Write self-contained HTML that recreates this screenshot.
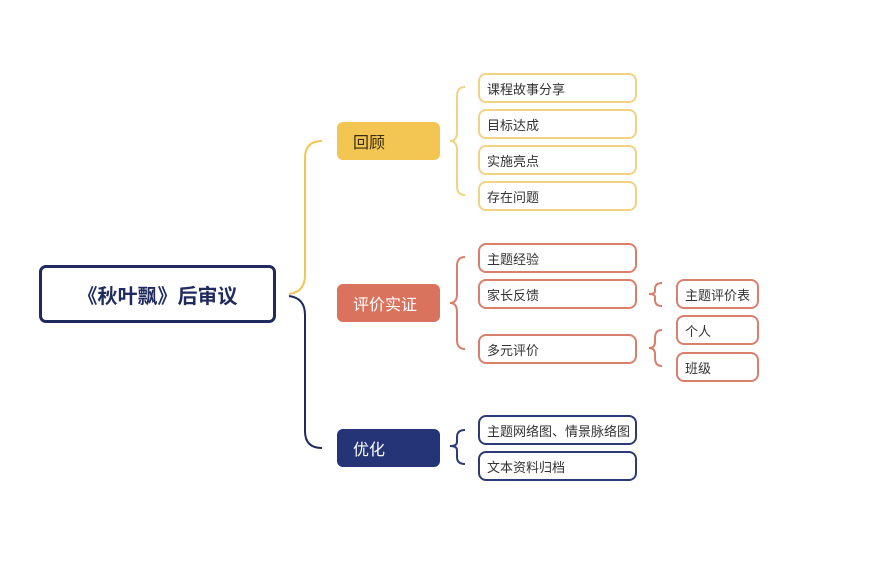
<!DOCTYPE html>
<html><head><meta charset="utf-8"><style>
body{margin:0;width:877px;height:585px;background:#fff;position:relative;overflow:hidden;font-family:"Liberation Sans","Noto Sans CJK SC",sans-serif}
.b{position:absolute;box-sizing:border-box;display:flex;align-items:center}
.leaf{height:30px;border-radius:8px;border:2px solid;padding-left:7px;font-size:13px;color:#333;background:#fff}
.y{border-color:#f0d385}.r{border-color:#d9806c}.n{border-color:#2d3a78}
.main{left:337px;width:103px;height:38px;border-radius:6px;padding-left:16px;font-size:16px}
svg{position:absolute;left:0;top:0}
</style></head><body>
<svg width="877" height="585" fill="none" stroke-width="2">
<path d="M289 294 Q305 292 305 275 L305 158 Q305 141 322 141" stroke="#f3c553"/>
<path d="M289 296 Q305 298 305 315 L305 431 Q305 448 322 448" stroke="#1f2a5e"/>
<path d="M465 87 Q457 87 457 96 L457 132 Q457 141 450 141 Q457 141 457 150 L457 186 Q457 195 465 195" stroke="#f0d385"/>
<path d="M465 257 Q457 257 457 266 L457 294 Q457 303 450 303 Q457 303 457 312 L457 340 Q457 349 465 349" stroke="#d9806c"/>
<path d="M662 283 Q655 283 655 289 L655 291 Q655 294 649 294 Q655 294 655 297 L655 300 Q655 306 662 306" stroke="#d9806c"/>
<path d="M662 330 Q655 330 655 338 L655 342 Q655 348 649 348 Q655 348 655 354 L655 358 Q655 366 662 366" stroke="#d9806c"/>
<path d="M465 430 Q457 430 457 437 L457 442 Q457 446 450 446 Q457 446 457 450 L457 457 Q457 464 465 464" stroke="#2d3a78"/>
</svg>
<div class="b" style="left:39px;top:265px;width:237px;height:58px;border:3px solid #1f2a5e;border-radius:7px;justify-content:center;font-size:20px;font-weight:bold;color:#1f2a5e">《秋叶飘》后审议</div>
<div class="b main" style="top:122px;background:#f3c553;color:#3a2c10">回顾</div>
<div class="b main" style="top:284px;background:#d9735e;color:#fff">评价实证</div>
<div class="b main" style="top:429px;background:#253477;color:#fff">优化</div>
<div class="b leaf y" style="left:478px;top:73px;width:159px">课程故事分享</div>
<div class="b leaf y" style="left:478px;top:109px;width:159px">目标达成</div>
<div class="b leaf y" style="left:478px;top:145px;width:159px">实施亮点</div>
<div class="b leaf y" style="left:478px;top:181px;width:159px">存在问题</div>
<div class="b leaf r" style="left:478px;top:243px;width:159px">主题经验</div>
<div class="b leaf r" style="left:478px;top:279px;width:159px">家长反馈</div>
<div class="b leaf r" style="left:478px;top:334px;width:159px">多元评价</div>
<div class="b leaf r" style="left:676px;top:279px;width:83px">主题评价表</div>
<div class="b leaf r" style="left:676px;top:315px;width:83px">个人</div>
<div class="b leaf r" style="left:676px;top:352px;width:83px">班级</div>
<div class="b leaf n" style="left:478px;top:415px;width:159px">主题网络图、情景脉络图</div>
<div class="b leaf n" style="left:478px;top:451px;width:159px">文本资料归档</div>
</body></html>
